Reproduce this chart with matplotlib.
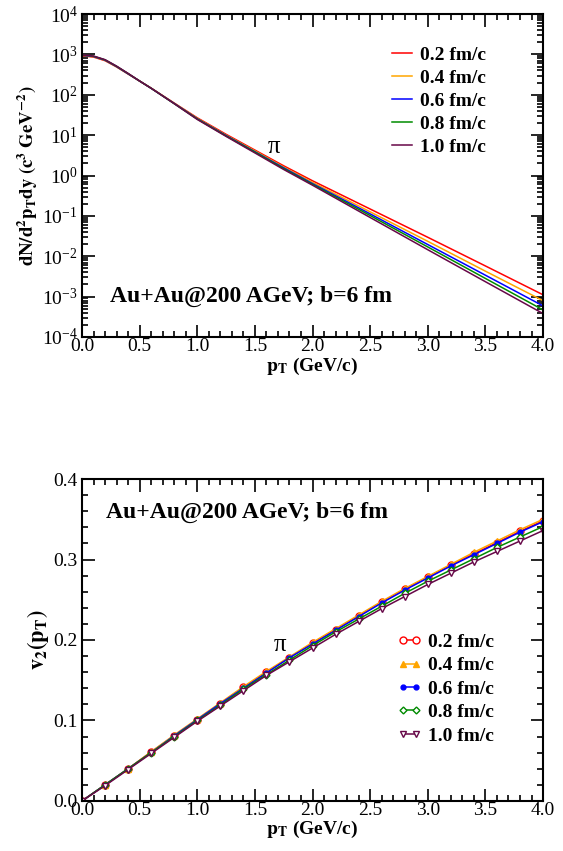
import numpy as np
import matplotlib
matplotlib.use("Agg")
import matplotlib.pyplot as plt
from matplotlib.ticker import MultipleLocator, LogLocator, NullFormatter

plt.rcParams['font.family'] = ['Liberation Serif', 'DejaVu Serif']
plt.rcParams['mathtext.fontset'] = 'stix'

labels = ["0.2 fm/c", "0.4 fm/c", "0.6 fm/c", "0.8 fm/c", "1.0 fm/c"]
colors = ["#ff0000", "#ffa500", "#0000ff", "#008b00", "#670748"]

# pion spectra dN/d2pTdy
pt_spec = [0, 0.1, 0.2, 0.3, 0.4, 0.5, 0.6, 0.8, 1.0, 1.25, 1.5, 1.75, 2.0, 2.5, 3.0, 3.5, 4.0]
spec_02 = [923, 861, 700, 490, 327, 219, 146, 62.4, 26.9, 10.5, 4.27, 1.74, 0.741, 0.148, 0.0295, 5.75e-3, 1.11e-3]
spec_04 = [944, 881, 716, 495, 331, 219, 146, 61.7, 26.0, 10.0, 4.07, 1.62, 0.676, 0.126, 0.0234, 4.27e-3, 7.94e-4]
spec_06 = [955, 891, 724, 501, 331, 219, 145, 61.0, 25.4, 9.77, 3.89, 1.55, 0.631, 0.112, 0.0195, 3.39e-3, 5.89e-4]
spec_08 = [966, 902, 733, 507, 335, 219, 145, 60.3, 25.1, 9.55, 3.80, 1.48, 0.603, 0.102, 0.0170, 2.82e-3, 4.68e-4]
spec_10 = [977, 912, 741, 513, 339, 219, 145, 60.3, 24.5, 9.33, 3.63, 1.41, 0.575, 0.0912, 0.0145, 2.34e-3, 3.80e-4]

# elliptic flow v2(pT)
pt_v2 = [0.0, 0.2, 0.4, 0.6, 0.8, 1.0, 1.2, 1.4, 1.6, 1.8, 2.0, 2.2, 2.4, 2.6, 2.8, 3.0, 3.2, 3.4, 3.6, 3.8, 4.0]
v2_02 = [0, 0.020, 0.040, 0.061, 0.081, 0.101, 0.121, 0.141, 0.160, 0.178, 0.196, 0.213, 0.230, 0.247, 0.263, 0.278, 0.293, 0.307, 0.321, 0.335, 0.348]
v2_04 = [0, 0.020, 0.040, 0.061, 0.082, 0.102, 0.122, 0.142, 0.161, 0.179, 0.197, 0.214, 0.231, 0.248, 0.264, 0.279, 0.294, 0.309, 0.323, 0.337, 0.350]
v2_06 = [0, 0.020, 0.040, 0.060, 0.081, 0.101, 0.121, 0.140, 0.159, 0.178, 0.195, 0.212, 0.229, 0.246, 0.262, 0.277, 0.292, 0.306, 0.320, 0.334, 0.347]
v2_08 = [0, 0.020, 0.040, 0.060, 0.080, 0.100, 0.119, 0.139, 0.157, 0.175, 0.193, 0.210, 0.226, 0.242, 0.258, 0.273, 0.287, 0.301, 0.315, 0.328, 0.341]
v2_10 = [0, 0.019, 0.039, 0.059, 0.079, 0.099, 0.118, 0.137, 0.156, 0.173, 0.190, 0.207, 0.223, 0.239, 0.254, 0.269, 0.283, 0.297, 0.310, 0.323, 0.336]

spectra = [spec_02, spec_04, spec_06, spec_08, spec_10]
v2s = [v2_02, v2_04, v2_06, v2_08, v2_10]
markers = ["o", "^", "o", "D", "v"]
mfill = [False, True, True, False, False]
msize = [5, 5, 3.5, 3.5, 5]

fig = plt.figure(figsize=(5.63, 8.51), dpi=100)
ax1 = fig.add_axes([0.1456, 0.604, 0.819, 0.3795])
ax2 = fig.add_axes([0.1456, 0.0588, 0.819, 0.3783])


def style_axis(ax):
    for s in ax.spines.values():
        s.set_linewidth(1.5)
    ax.tick_params(which='both', direction='in', top=True, right=True, width=1.2,
                   labelsize=14)
    ax.tick_params(axis='x', pad=1)
    ax.tick_params(axis='y', pad=3)
    ax.tick_params(which='major', length=9)
    ax.tick_params(which='minor', length=4.5)
    ax.xaxis.set_major_locator(MultipleLocator(0.5))
    ax.xaxis.set_minor_locator(MultipleLocator(0.1))
    ax.xaxis.set_major_formatter(plt.FormatStrFormatter('%.1f'))
    ax.set_xlim(0, 4)


# top: spectra
for y, c, lab in zip(spectra, colors, labels):
    ax1.plot(pt_spec, y, color=c, lw=1.1, label=lab)
ax1.set_yscale('log')
ax1.set_ylim(1e-4, 1e4)
style_axis(ax1)
ax1.yaxis.set_major_locator(LogLocator(base=10, numticks=20))
ax1.yaxis.set_minor_locator(LogLocator(base=10, subs=np.arange(2, 10), numticks=20))
ax1.yaxis.set_minor_formatter(NullFormatter())
ax1.set_xlabel(r'$\mathbf{p_T}$ (GeV/c)', fontsize=14, fontweight='bold', labelpad=0)
ax1.set_ylabel(r'$\mathbf{dN/d^2p_Tdy\ (c^3\ GeV^{-2})}$', fontsize=13.5, labelpad=1)
ax1.text(1.67, 5.0, 'π', fontsize=18, ha='center', va='center')
ax1.text(0.24, 1.0e-3, 'Au+Au@200 AGeV; b=6 fm', fontsize=17, fontweight='bold',
         ha='left', va='center')
leg1 = ax1.legend(loc='upper right', bbox_to_anchor=(0.915, 0.955), frameon=False,
                  prop={'weight': 'bold', 'size': 14}, handlelength=1.0,
                  handletextpad=0.45, labelspacing=0.28)

# bottom: v2
for y, c, lab, m, f, ms in zip(v2s, colors, labels, markers, mfill, msize):
    ax2.plot(pt_v2, y, color=c, lw=1.1, marker=m, ms=ms, mew=1.0,
             mfc=c if f else 'white', mec=c, label=lab)
ax2.set_ylim(0, 0.4)
style_axis(ax2)
ax2.yaxis.set_major_locator(MultipleLocator(0.1))
ax2.yaxis.set_minor_locator(MultipleLocator(0.02))
ax2.yaxis.set_major_formatter(plt.FormatStrFormatter('%.1f'))
ax2.set_xlabel(r'$\mathbf{p_T}$ (GeV/c)', fontsize=14, fontweight='bold', labelpad=0)
ax2.set_ylabel(r'$\mathbf{v_2(p_T)}$', fontsize=16, labelpad=2)
ax2.text(1.72, 0.194, 'π', fontsize=18, ha='center', va='center')
ax2.text(0.21, 0.358, 'Au+Au@200 AGeV; b=6 fm', fontsize=17, fontweight='bold',
         ha='left', va='center')
leg2 = ax2.legend(loc='upper left', bbox_to_anchor=(0.645, 0.575), frameon=False,
                  prop={'weight': 'bold', 'size': 14}, handlelength=1.3,
                  handletextpad=0.3, labelspacing=0.3, numpoints=2)

fig.savefig("out.png", dpi=100)
